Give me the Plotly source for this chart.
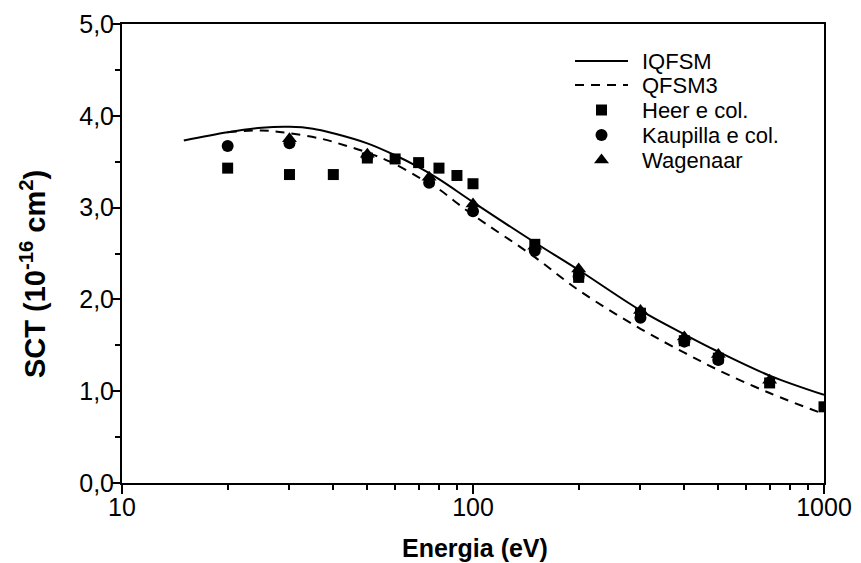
import plotly.graph_objects as go

# Curves
iq_E = [15, 20, 25, 30, 35, 40, 50, 60, 70, 80, 100, 150, 200, 300, 400, 500, 700, 1000]
iq_S = [3.73, 3.82, 3.87, 3.88, 3.86, 3.81, 3.70, 3.57, 3.44, 3.31, 3.06, 2.62, 2.32, 1.88, 1.62, 1.43, 1.17, 0.96]

q3_E = [20, 25, 30, 37, 43, 50, 58, 70, 80, 90, 100, 150, 200, 300, 400, 500, 700, 1000]
q3_S = [3.82, 3.84, 3.81, 3.75, 3.68, 3.60, 3.50, 3.33, 3.20, 3.05, 2.92, 2.46, 2.10, 1.68, 1.42, 1.23, 0.98, 0.75]

# Experimental data
heer_E = [20, 30, 40, 50, 60, 70, 80, 90, 100, 150, 200, 300, 400, 500, 700, 1000]
heer_S = [3.43, 3.36, 3.36, 3.54, 3.53, 3.49, 3.43, 3.35, 3.26, 2.60, 2.24, 1.85, 1.55, 1.36, 1.09, 0.83]

kau_E = [20, 30, 50, 75, 100, 150, 200, 300, 400, 500]
kau_S = [3.67, 3.70, 3.55, 3.27, 2.96, 2.53, 2.25, 1.80, 1.54, 1.34]

wag_E = [30, 50, 75, 100, 150, 200, 300, 400, 500, 700]
wag_S = [3.75, 3.58, 3.33, 3.04, 2.58, 2.33, 1.88, 1.59, 1.40, 1.12]

x_ticks = [10, 100, 1000]
x_ticktext = ["10", "100", "1000"]
x_minor = [20, 30, 40, 50, 60, 70, 80, 90, 200, 300, 400, 500, 600, 700, 800, 900]
y_ticks = [0, 1, 2, 3, 4, 5]
y_minor = [0.5, 1.5, 2.5, 3.5, 4.5]

series_names = ["IQFSM", "QFSM3", "Heer e col.", "Kaupilla e col.", "Wagenaar"]

# plot-area size in px (layout constants)
W, H = 861, 563
ML, MR, MT, MB = 122, 37, 24, 80
PX0, PX1 = ML, W - MR
PY0, PY1 = H - MB, MT

fig = go.Figure()
line_iq = dict(color="black", width=2, shape="spline")
line_q3 = dict(color="black", width=2, dash="9px,7px", shape="spline")
mk_sq = dict(symbol="square", size=11, color="black")
mk_ci = dict(symbol="circle", size=12, color="black")
mk_tr = dict(symbol="triangle-up", size=13, color="black")

fig.add_trace(go.Scatter(x=iq_E, y=iq_S, mode="lines", name=series_names[0], line=line_iq))
fig.add_trace(go.Scatter(x=q3_E, y=q3_S, mode="lines", name=series_names[1], line=line_q3))
fig.add_trace(go.Scatter(x=heer_E, y=heer_S, mode="markers", name=series_names[2], marker=mk_sq))
fig.add_trace(go.Scatter(x=kau_E, y=kau_S, mode="markers", name=series_names[3], marker=mk_ci))
fig.add_trace(go.Scatter(x=wag_E, y=wag_S, mode="markers", name=series_names[4], marker=mk_tr))

# Legend drawn on an invisible overlay axis measured in pixels
leg_x0, leg_x1, leg_tx = 575, 628, 640
leg_rows = [61, 85, 110, 135, 160]
fig.add_trace(go.Scatter(x=[leg_x0, leg_x1], y=[leg_rows[0]] * 2, mode="lines",
                         line=dict(color="black", width=2), xaxis="x2", yaxis="y2",
                         showlegend=False, hoverinfo="skip"))
fig.add_trace(go.Scatter(x=[leg_x0, leg_x1], y=[leg_rows[1]] * 2, mode="lines",
                         line=dict(color="black", width=2, dash="9px,7px"), xaxis="x2", yaxis="y2",
                         showlegend=False, hoverinfo="skip"))
for row, mk in zip(leg_rows[2:], [mk_sq, mk_ci, mk_tr]):
    fig.add_trace(go.Scatter(x=[(leg_x0 + leg_x1) / 2], y=[row], mode="markers",
                             marker=mk, xaxis="x2", yaxis="y2",
                             showlegend=False, hoverinfo="skip"))
for row, name in zip(leg_rows, series_names):
    fig.add_annotation(x=leg_tx, y=row, xref="x2", yref="y2", text=name,
                       showarrow=False, xanchor="left", yanchor="middle",
                       font=dict(size=22, color="black"))

# Y-axis title
fig.add_annotation(x=(33 - PX0) / (PX1 - PX0), y=(PY0 - 274) / (PY0 - PY1),
                   xref="paper", yref="paper", textangle=-90,
                   text="<b>SCT (10<sup>-16</sup> cm<sup>2</sup>)</b>",
                   showarrow=False, xanchor="center", yanchor="middle",
                   font=dict(size=29, color="black"))

# X-axis title
fig.add_annotation(x=(475 - PX0) / (PX1 - PX0), y=(PY0 - 548) / (PY0 - PY1),
                   xref="paper", yref="paper",
                   text="<b>Energia (eV)</b>",
                   showarrow=False, xanchor="center", yanchor="middle",
                   font=dict(size=25, color="black"))

font = "Liberation Sans, Arial, sans-serif"
fig.update_layout(
    width=W, height=H,
    margin=dict(l=ML, r=MR, t=MT, b=MB),
    paper_bgcolor="white", plot_bgcolor="white",
    separators=", ",
    font=dict(family=font, size=25, color="black"),
    showlegend=False,
    xaxis=dict(
        type="log", range=[1, 3], automargin=False,
        tickmode="array", tickvals=x_ticks, ticktext=x_ticktext,
        ticks="outside", ticklen=9, tickwidth=2, tickcolor="black",
        showline=True, linewidth=2, linecolor="black", mirror=True,
        showgrid=False, zeroline=False, ticklabelstandoff=-8,
        minor=dict(tickmode="array", tickvals=x_minor, ticks="outside", ticklen=5,
                   tickwidth=2, tickcolor="black", showgrid=False),
        tickfont=dict(size=25),
    ),
    yaxis=dict(
        range=[0, 5], tickmode="array", tickvals=y_ticks, tickformat=".1f", automargin=False,
        ticks="outside", ticklen=9, tickwidth=2, tickcolor="black",
        showline=True, linewidth=2, linecolor="black", mirror=True,
        showgrid=False, zeroline=False, ticklabelstandoff=-8,
        minor=dict(tickmode="array", tickvals=y_minor, ticks="outside", ticklen=5,
                   tickwidth=2, tickcolor="black", showgrid=False),
        tickfont=dict(size=25),
    ),
    xaxis2=dict(overlaying="x", range=[PX0, PX1], visible=False, fixedrange=True),
    yaxis2=dict(overlaying="y", range=[PY0, PY1], visible=False, fixedrange=True),
)

fig.write_html("out.html")
